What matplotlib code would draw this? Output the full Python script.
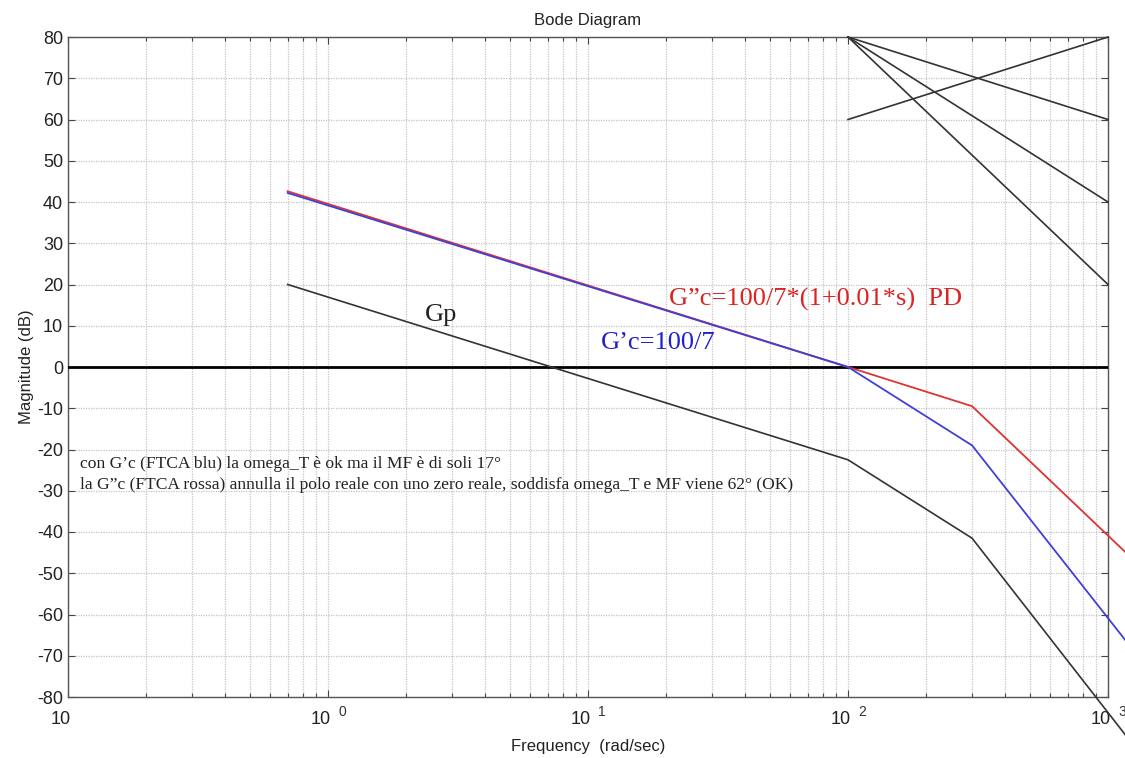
import numpy as np
import matplotlib.pyplot as plt
from matplotlib.ticker import LogLocator, NullFormatter

# asymptotic Bode magnitudes (dB) read at the corner frequencies
freq = [0.7, 100, 300, 1300]
gp = [20, -22.5, -41.5, -93]          # plant
gc_blue = [42.2, 0, -19, -70]         # G'c = 100/7
gc_red = [42.6, 0, -9.5, -47.7]       # G''c = 100/7*(1+0.01s)

# slope reference lines drawn in the top right
guide_f = [100, 1000]
guides = [[80, 60], [80, 40], [80, 20], [60, 80]]

decades = [-1, 0, 1, 2, 3]
yticks = list(range(-80, 81, 10))

plt.rcParams['font.family'] = ['Liberation Sans', 'DejaVu Sans']
plt.rcParams['axes.unicode_minus'] = False
serif = ['Liberation Serif', 'DejaVu Serif']

fig = plt.figure(figsize=(11.25, 7.58), dpi=100)
ax = fig.add_axes([68/1125, 1-697/758, (1108-68)/1125, (697-37)/758])
ax.set_xscale('log')
ax.set_xlim(0.1, 1000)
ax.set_ylim(-80, 80)

# grid, matlab style
gcol = '#c4c4c4'
ax.grid(True, which='major', color=gcol, linestyle=(0, (1, 1)), linewidth=0.9)
ax.grid(True, which='minor', axis='x', color=gcol, linestyle=(0, (1, 1)), linewidth=0.9)
ax.xaxis.set_major_locator(LogLocator(base=10, numticks=10))
ax.xaxis.set_minor_locator(LogLocator(base=10, subs=np.arange(2, 10), numticks=20))
ax.xaxis.set_minor_formatter(NullFormatter())
ax.set_yticks(yticks)
ax.tick_params(which='both', direction='in', top=True, right=True, colors='#444444',
               labelcolor='#222222', labelsize=13)
ax.tick_params(which='major', length=5, width=0.8)
ax.tick_params(which='minor', length=3, width=0.8)
ax.set_xticklabels([])
for s in ax.spines.values():
    s.set_color('#555555')
    s.set_linewidth(1.0)

for d in decades:
    ax.annotate('10', xy=(10.0**d, 0), xycoords=('data', 'axes fraction'),
                xytext=(-5, -10), textcoords='offset points', ha='center', va='top',
                fontsize=13, color='#222222', annotation_clip=False)
    if d >= 0:
        ax.annotate(str(d), xy=(10.0**d, 0), xycoords=('data', 'axes fraction'),
                    xytext=(10, -6), textcoords='offset points', ha='center', va='top',
                    fontsize=10, color='#333333', annotation_clip=False)

# 0 dB line
ax.plot([0.1, 1000], [0, 0], color='black', linewidth=2.0, zorder=3)

for g in guides:
    ax.plot(guide_f, g, color='#333333', linewidth=1.2, clip_on=False, zorder=3)

ax.plot(freq, gp, color='#333333', linewidth=1.2, clip_on=False, zorder=4)
ax.plot(freq, gc_red, color='#dd3333', linewidth=1.3, clip_on=False, zorder=4)
ax.plot(freq, gc_blue, color='#4040d8', linewidth=1.3, clip_on=False, zorder=5)

ax.text(2.36, 11.2, 'Gp', fontsize=19, family=serif, color='#222222')
ax.text(11.2, 4.4, 'G’c=100/7', fontsize=19, family=serif, color='#2020d0')
ax.text(20.5, 15.0, 'G”c=100/7*(1+0.01*s)  PD', fontsize=19, family=serif, color='#dd2222')
ax.text(0.111, -24.5, 'con G’c (FTCA blu) la omega_T è ok ma il MF è di soli 17°',
        fontsize=12.6, family=serif, color='#222222')
ax.text(0.111, -29.6, 'la G”c (FTCA rossa) annulla il polo reale con uno zero reale, soddisfa omega_T e MF viene 62° (OK)',
        fontsize=12.6, family=serif, color='#222222')

ax.set_title('Bode Diagram', fontsize=12, pad=9, color='#222222')
ax.set_xlabel('Frequency  (rad/sec)', fontsize=12, labelpad=27, color='#222222')
ax.set_ylabel('Magnitude (dB)', fontsize=12, labelpad=2, color='#222222')

fig.savefig('out.png', dpi=100)
